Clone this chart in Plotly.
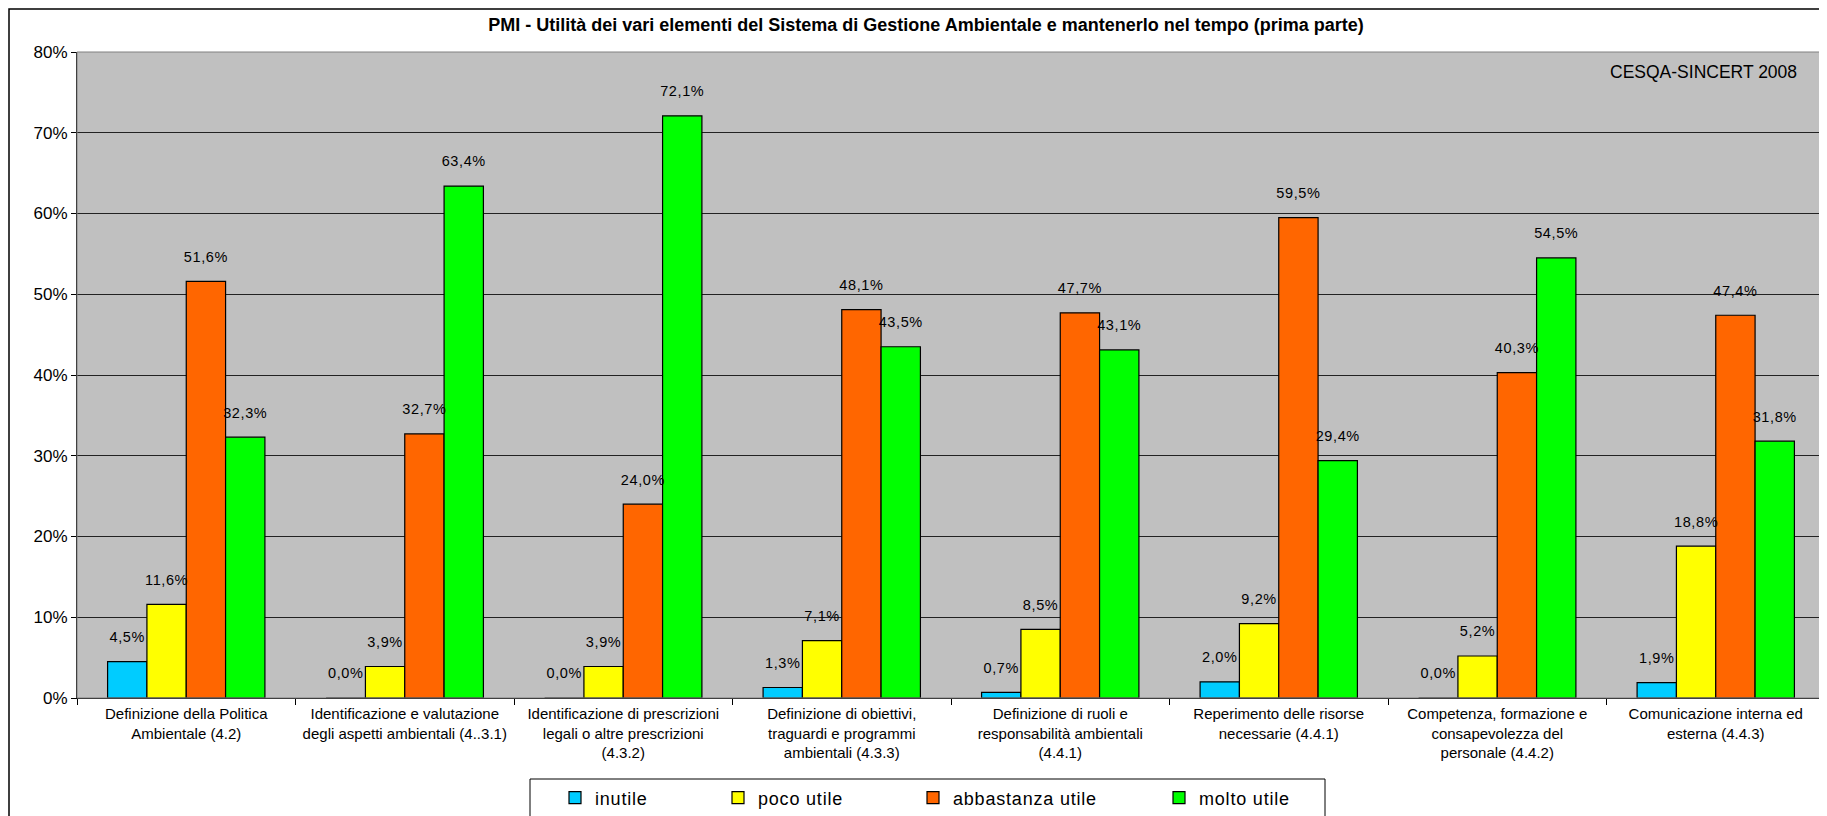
import plotly.graph_objects as go

categories = [
    "Definizione della Politica<br>Ambientale (4.2)",
    "Identificazione e valutazione<br>degli aspetti ambientali (4..3.1)",
    "Identificazione di prescrizioni<br>legali o altre prescrizioni<br>(4.3.2)",
    "Definizione di obiettivi,<br>traguardi e programmi<br>ambientali (4.3.3)",
    "Definizione di ruoli e<br>responsabilità ambientali<br>(4.4.1)",
    "Reperimento delle risorse<br>necessarie (4.4.1)",
    "Competenza, formazione e<br>consapevolezza del<br>personale (4.4.2)",
    "Comunicazione interna ed<br>esterna (4.4.3)",
]
inutile = [4.5, 0.0, 0.0, 1.3, 0.7, 2.0, 0.0, 1.9]
poco_utile = [11.6, 3.9, 3.9, 7.1, 8.5, 9.2, 5.2, 18.8]
abbastanza_utile = [51.6, 32.7, 24.0, 48.1, 47.7, 59.5, 40.3, 47.4]
molto_utile = [32.3, 63.4, 72.1, 43.5, 43.1, 29.4, 54.5, 31.8]

series = [
    ("inutile", inutile, "#00CCFF"),
    ("poco utile", poco_utile, "#FFFF00"),
    ("abbastanza utile", abbastanza_utile, "#FF6600"),
    ("molto utile", molto_utile, "#00FF00"),
]
legend_text_x = [592, 755, 950, 1196]  # screen px where legend texts start

FONT = "Liberation Sans, Arial"
OFF = 8  # default page body margin
W, H = 1827 - OFF, 816 - OFF
ml, mr, mt, mb = 69, 2, 44, 118
pw, ph = W - ml - mr, H - mt - mb


def px_x(sx):
    return (sx - OFF - ml) / pw


def px_y(sy):
    return (OFF + H - mb - sy) / ph


def spaced(s, ls):
    return f'<span style="letter-spacing:{ls}px">{s}</span>'


fig = go.Figure()
for i, (name, vals, col) in enumerate(series):
    lg = "legend" if i == 0 else f"legend{i+1}"
    fig.add_trace(go.Bar(
        name=spaced(name, 0.8), x=categories, y=vals, legend=lg,
        marker=dict(color=col, line=dict(color="black", width=1.2)),
        offsetgroup=str(i),
    ))
for i, (name, vals, col) in enumerate(series):
    fig.add_trace(go.Scatter(
        x=categories, y=vals, mode="markers+text", showlegend=False,
        offsetgroup=str(i),
        marker=dict(size=24, color="rgba(0,0,0,0)"),
        text=[spaced(f"{v:.1f}%".replace(".", ","), 0.6) for v in vals],
        textposition="top center", cliponaxis=False, hoverinfo="skip",
        textfont=dict(family=FONT, size=14.5, color="black"),
    ))

layout_legends = {}
for i, tx in enumerate(legend_text_x):
    key = "legend" if i == 0 else f"legend{i+1}"
    layout_legends[key] = dict(
        orientation="h", x=px_x(tx - 37), xanchor="left",
        y=px_y(798), yanchor="middle", bgcolor="rgba(0,0,0,0)",
        borderwidth=0, font=dict(size=18, family=FONT, color="black"),
    )

fig.update_layout(
    width=W, height=H,
    margin=dict(l=ml, r=mr, t=mt, b=mb, autoexpand=False),
    paper_bgcolor="white", plot_bgcolor="#C0C0C0",
    barmode="group", bargap=0.28, bargroupgap=0,
    scattermode="group", scattergap=0.28,
    font=dict(family=FONT, size=15, color="black"),
    title=dict(
        text="<b>PMI - Utilità dei vari elementi del Sistema di Gestione Ambientale e mantenerlo nel tempo (prima parte)</b>",
        xref="container", x=(926 - OFF) / W, xanchor="center",
        yref="container", y=1 - (25 - OFF) / H, yanchor="middle",
        font=dict(size=18, family=FONT, color="black"),
    ),
    showlegend=True,
    xaxis=dict(
        showline=True, linecolor="black", linewidth=1,
        ticks="outside", tickson="boundaries", ticklen=6, tickcolor="black",
        tickfont=dict(size=15), showgrid=False, ticklabelstandoff=2,
    ),
    yaxis=dict(
        range=[0, 80], dtick=10, ticksuffix="%",
        showline=True, linecolor="black", linewidth=1,
        ticks="outside", ticklen=5, tickcolor="black",
        showgrid=True, gridcolor="#222222", gridwidth=1,
        tickfont=dict(size=17), zeroline=False,
    ),
    **layout_legends,
)

fig.add_annotation(
    text="CESQA-SINCERT 2008", xref="paper", yref="paper",
    x=px_x(1799), xanchor="right", y=px_y(72), yanchor="middle",
    showarrow=False, font=dict(size=17.5, color="black"),
)

# legend box
fig.add_shape(
    type="rect", xref="paper", yref="paper",
    x0=px_x(530), x1=px_x(1325), y0=px_y(830), y1=px_y(779),
    line=dict(color="black", width=1), fillcolor="white", layer="below",
)
# outer chart border
fig.add_shape(
    type="rect", xref="paper", yref="paper",
    x0=px_x(OFF + 1), x1=px_x(1826.5), y0=px_y(840), y1=px_y(OFF + 1),
    line=dict(color="black", width=1.5), fillcolor="rgba(0,0,0,0)", layer="below",
)
# plot area border
fig.add_shape(
    type="rect", xref="paper", yref="paper", x0=0, x1=1, y0=0, y1=1,
    line=dict(color="#808080", width=1), fillcolor="rgba(0,0,0,0)",
)

fig.write_html("out.html")
